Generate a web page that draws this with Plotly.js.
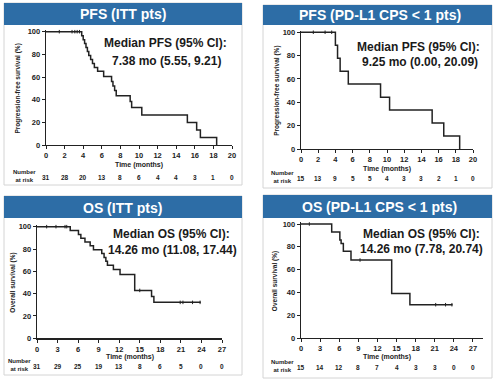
<!DOCTYPE html>
<html>
<head>
<meta charset="utf-8">
<script src="https://cdn.plot.ly/plotly-3.0.1.min.js"></script>
<style>html,body{margin:0;padding:0;background:#fff;}#chart{width:500px;height:380px;}</style>
</head>
<body>
<div id="chart"></div>
<script>
// ---------------- DATA ----------------
// PFS, ITT patients
const pfsIttTime = [0, 3.84, 4.0, 4.15, 4.3, 4.45, 4.6, 4.8, 5.0, 5.2, 5.55, 6.2, 7.05, 7.2, 7.38, 7.55, 9.05, 9.21, 10.3, 15.2, 16.2, 16.6, 18.35];
const pfsIttSurv = [100, 96.5, 93, 89.5, 86, 82.5, 79, 75.5, 72, 68.5, 65, 60.5, 56, 52, 48, 43.5, 38.5, 33, 26.5, 19.9, 13.3, 6.6, 0];
const pfsIttCensTime = [1.43, 2.8, 3.1, 3.35, 3.6];
const pfsIttCensSurv = [100, 100, 100, 100, 100];
const pfsIttRisk = [31, 28, 20, 13, 8, 6, 4, 4, 3, 1, 0];

// PFS, PD-L1 CPS < 1 patients
const pfsCpsTime = [0, 4.0, 4.25, 4.55, 5.5, 9.25, 10.3, 15.25, 16.6, 18.45];
const pfsCpsSurv = [100, 88.9, 77.8, 66.7, 55.6, 44.4, 33.3, 22.2, 11.1, 0];
const pfsCpsCensTime = [1.43, 2.8, 3.57];
const pfsCpsCensSurv = [100, 100, 100];
const pfsCpsRisk = [15, 13, 9, 5, 5, 4, 3, 3, 2, 1, 0];

// OS, ITT patients
const osIttTime = [0, 4.85, 6.05, 6.4, 7.0, 7.76, 8.24, 9.45, 9.79, 10.05, 10.28, 11.15, 12.12, 14.26, 16.72, 17.06, 23.9];
const osIttSurv = [100, 96.6, 93.1, 89.7, 86.2, 82.8, 79.3, 75.9, 72.4, 69.0, 65.5, 61.6, 57.2, 42.9, 37.5, 32.2, 32.2];
const osIttCensTime = [1.41, 2.77, 4.09, 4.34, 15.0, 20.9, 21.3, 22.7, 23.8];
const osIttCensSurv = [100, 100, 100, 100, 42.9, 32.2, 32.2, 32.2, 32.2];
const osIttRisk = [31, 29, 25, 19, 13, 8, 6, 5, 0, 0];

// OS, PD-L1 CPS < 1 patients
const osCpsTime = [0, 4.82, 6.1, 6.3, 6.65, 7.85, 14.24, 17.1, 23.8];
const osCpsSurv = [100, 92.9, 86, 83, 76, 68.4, 39, 29.2, 29.2];
const osCpsCensTime = [1.31, 9.27, 21.15, 22.7, 23.7];
const osCpsCensSurv = [100, 68.4, 29.2, 29.2, 29.2];
const osCpsRisk = [15, 14, 12, 8, 7, 4, 3, 3, 0, 0];

// Tick labels
const pfsTicks = [0, 2, 4, 6, 8, 10, 12, 14, 16, 18, 20];
const osTicks = [0, 3, 6, 9, 12, 15, 18, 21, 24, 27];
const survTicks = [0, 20, 40, 60, 80, 100];

// Texts
const panelTitles = ['PFS (ITT pts)', 'PFS (PD-L1 CPS < 1 pts)', 'OS (ITT pts)', 'OS (PD-L1 CPS < 1 pts)'];
const medianLine1 = ['Median PFS (95% CI):', 'Median PFS (95% CI):', 'Median OS (95% CI):', 'Median OS (95% CI):'];
const medianLine2 = ['7.38 mo (5.55, 9.21)', '9.25 mo (0.00, 20.09)', '14.26 mo (11.08, 17.44)', '14.26 mo (7.78, 20.74)'];
const yTitles = ['Progression-free survival (%)', 'Progression-free survival (%)', 'Overall survival (%)', 'Overall survival (%)'];
const xTitle = 'Time (months)';
const riskLabel = 'Number<br>at risk';

// ---------------- LAYOUT ----------------
const W = 500, H = 380;
const px = v => v / W;
const py = v => 1 - v / H;
const FONT = '"Liberation Sans", Arial, Helvetica, sans-serif';
const INK = '#222';
const BLUE = '#2d6da6';

const panels = [
  {time: pfsIttTime, surv: pfsIttSurv, ct: pfsIttCensTime, cs: pfsIttCensSurv, risk: pfsIttRisk, ticks: pfsTicks, xmax: 20,
   plotX: [46, 232], plotY: [145, 30.0], box: [4, 242, 3, 185], band: [3, 25], titleXY: [123, 14],
   med: [[165, 43.5], [166, 61]], riskY: 177.5, riskLab: [24, 176], xTitleXY: [139, 165], yTitleX: 17},
  {time: pfsCpsTime, surv: pfsCpsSurv, ct: pfsCpsCensTime, cs: pfsCpsCensSurv, risk: pfsCpsRisk, ticks: pfsTicks, xmax: 20,
   plotX: [301, 473], plotY: [149, 30.5], box: [263, 492, 5, 188], band: [5, 25], titleXY: [380, 15],
   med: [[418, 46.5], [420, 61.5]], riskY: 178.5, riskLab: [282, 177], xTitleXY: [387, 168.5], yTitleX: 277},
  {time: osIttTime, surv: osIttSurv, ct: osIttCensTime, cs: osIttCensSurv, risk: osIttRisk, ticks: osTicks, xmax: 27,
   plotX: [37, 222], plotY: [338.3, 225.0], box: [4, 242, 196, 375], band: [196, 218], titleXY: [122, 208],
   med: [[171, 233.5], [172, 249.5]], riskY: 366.5, riskLab: [19, 365], xTitleXY: [130, 357], yTitleX: 13},
  {time: osCpsTime, surv: osCpsSurv, ct: osCpsCensTime, cs: osCpsCensSurv, risk: osCpsRisk, ticks: osTicks, xmax: 28.5,
   plotX: [301, 482.5], plotY: [338, 222.3], box: [263, 492, 195, 378], band: [195, 218], titleXY: [379, 207],
   med: [[421, 234], [421, 249]], riskY: 367, riskLab: [282, 366], xTitleXY: [387, 357], yTitleX: 275}
];

const traces = [];
const shapes = [];
const annotations = [];
const layout = {
  width: W, height: H,
  margin: {l: 0, r: 0, t: 0, b: 0},
  paper_bgcolor: '#ffffff', plot_bgcolor: 'rgba(0,0,0,0)',
  showlegend: false,
  font: {family: FONT, color: INK},
  shapes: shapes, annotations: annotations
};

function note(x, y, text, size, color, extra) {
  annotations.push(Object.assign({xref: 'paper', yref: 'paper', x: px(x), y: py(y),
    xanchor: 'center', yanchor: 'middle', showarrow: false, text: text,
    font: {size: size, color: color, family: FONT, weight: 700}}, extra || {}));
}

panels.forEach((p, i) => {
  const n = i === 0 ? '' : String(i + 1);
  const xa = 'x' + n, ya = 'y' + n;
  // panel frame and title band
  shapes.push({type: 'rect', xref: 'paper', yref: 'paper', layer: 'below',
    x0: px(p.box[0]), x1: px(p.box[1]), y0: py(p.box[3]), y1: py(p.box[2]),
    line: {color: '#d4d4d4', width: 1}, fillcolor: '#ffffff'});
  shapes.push({type: 'rect', xref: 'paper', yref: 'paper', layer: 'below',
    x0: px(p.box[0]), x1: px(p.box[1]), y0: py(p.band[1]), y1: py(p.band[0]),
    line: {width: 0}, fillcolor: BLUE});
  note(p.titleXY[0], p.titleXY[1], panelTitles[i], 14, '#ffffff');
  // median text
  note(p.med[0][0], p.med[0][1], medianLine1[i], 12, '#1a1a1a');
  note(p.med[1][0], p.med[1][1], medianLine2[i], 12, '#1a1a1a');
  // axis titles
  note(p.xTitleXY[0], p.xTitleXY[1], xTitle, 7, INK);
  note(p.yTitleX, (p.plotY[0] + p.plotY[1]) / 2 + 1, yTitles[i], 6.5, INK, {textangle: -90});
  // number at risk
  note(p.riskLab[0], p.riskLab[1], riskLabel, 6, INK);
  p.risk.forEach((r, k) => {
    annotations.push({xref: xa, yref: 'paper', x: p.ticks[k], y: py(p.riskY),
      xanchor: 'center', yanchor: 'middle', showarrow: false, text: String(r),
      font: {size: 6.5, color: INK, family: FONT, weight: 700}});
  });

  // traces
  traces.push({type: 'scatter', mode: 'lines', x: p.time, y: p.surv, xaxis: xa, yaxis: ya,
    line: {shape: 'hv', color: INK, width: 1.5}, hoverinfo: 'skip'});
  traces.push({type: 'scatter', mode: 'markers', x: p.ct, y: p.cs, xaxis: xa, yaxis: ya, cliponaxis: false,
    marker: {symbol: 'line-ns-open', size: 2.5, color: INK, line: {color: INK, width: 1}}, hoverinfo: 'skip'});

  const common = {showline: true, linecolor: INK, linewidth: 1.3, ticks: 'outside', ticklen: 3, tickwidth: 1,
    tickcolor: INK, showgrid: false, zeroline: false, fixedrange: true,
    tickfont: {size: 7.5, color: INK, family: FONT, weight: 700}};
  layout['xaxis' + n] = Object.assign({}, common, {
    anchor: ya, domain: [px(p.plotX[0]), px(p.plotX[1])], range: [0, p.xmax],
    tickmode: 'array', tickvals: p.ticks, ticktext: p.ticks.map(String)
  });
  layout['yaxis' + n] = Object.assign({}, common, {
    anchor: xa, domain: [py(p.plotY[0]), py(p.plotY[1])], range: [0, 101.5],
    tickmode: 'array', tickvals: survTicks, ticktext: survTicks.map(String)
  });
});

Plotly.newPlot('chart', traces, layout, {staticPlot: true, displayModeBar: false});
</script>
</body>
</html>
